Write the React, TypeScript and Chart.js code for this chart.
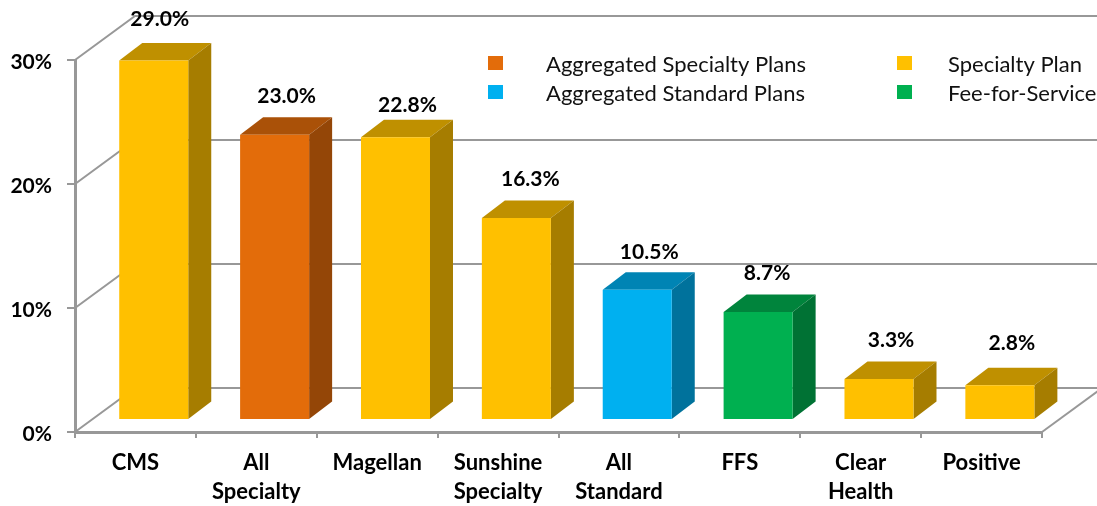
import React, { useEffect, useRef } from "react";
import { Chart, registerables } from "chart.js";

Chart.register(...registerables);

const categories: (string | string[])[] = ["CMS", ["All", "Specialty"], "Magellan", ["Sunshine", "Specialty"], ["All", "Standard"], "FFS", ["Clear", "Health"], "Positive"];
const values = [29.0, 23.0, 22.8, 16.3, 10.5, 8.7, 3.3, 2.8];
const groups = ["Specialty Plan", "Aggregated Specialty Plans", "Specialty Plan", "Specialty Plan", "Aggregated Standard Plans", "Fee-for-Service", "Specialty Plan", "Specialty Plan"];
const legendLeft = ["Aggregated Specialty Plans", "Aggregated Standard Plans"];
const legendRight = ["Specialty Plan", "Fee-for-Service"];
const yTicks = [0, 10, 20, 30];

const palette: Record<string, [number, number, number]> = {
  "Specialty Plan": [255, 192, 0],
  "Aggregated Specialty Plans": [227, 108, 10],
  "Aggregated Standard Plans": [0, 176, 240],
  "Fee-for-Service": [0, 176, 80],
};
const rgb = (c: [number, number, number], k = 1) => `rgb(${Math.round(c[0] * k)},${Math.round(c[1] * k)},${Math.round(c[2] * k)})`;

const FONT = "Lato, Carlito, sans-serif";
const GRID = "#989898";
const WALL = { dx: 60, dy: 44 };
const SHIFT = { dx: 18.3, dy: 12 };
const BOX = { dx: 23, dy: 17.5 };
const labelNudge = [[-6, -2], [0, 0], [0, 7], [2, 0], [0, 1], [-3, 0], [0, 0], [0, -3]];

const scene3d = {
  id: "scene3d",
  beforeDatasetsDraw(chart: any) {
    const { ctx, chartArea: a, scales } = chart;
    const y = scales.y;
    ctx.save();
    ctx.strokeStyle = GRID;
    ctx.lineWidth = 2;
    for (const t of yTicks) {
      const p = y.getPixelForValue(t);
      ctx.beginPath();
      ctx.moveTo(a.left, p);
      ctx.lineTo(a.left + WALL.dx, p - WALL.dy);
      ctx.lineTo(chart.width + 10, p - WALL.dy);
      ctx.stroke();
    }
    ctx.beginPath();
    ctx.moveTo(a.right, a.bottom);
    ctx.lineTo(a.right + WALL.dx, a.bottom - WALL.dy);
    ctx.stroke();
    ctx.restore();

    ctx.save();
    ctx.translate(SHIFT.dx, -SHIFT.dy);
    const meta = chart.getDatasetMeta(0);
    meta.data.forEach((bar: any, i: number) => {
      const c = palette[groups[i]];
      const l = bar.x - bar.width / 2;
      const r = bar.x + bar.width / 2;
      ctx.fillStyle = rgb(c, 0.75);
      ctx.beginPath();
      ctx.moveTo(l, bar.y);
      ctx.lineTo(l + BOX.dx, bar.y - BOX.dy);
      ctx.lineTo(r + BOX.dx, bar.y - BOX.dy);
      ctx.lineTo(r, bar.y);
      ctx.closePath();
      ctx.fill();
      ctx.fillStyle = rgb(c, 0.65);
      ctx.beginPath();
      ctx.moveTo(r, bar.y);
      ctx.lineTo(r + BOX.dx, bar.y - BOX.dy);
      ctx.lineTo(r + BOX.dx, bar.base - BOX.dy);
      ctx.lineTo(r, bar.base);
      ctx.closePath();
      ctx.fill();
    });
    // front faces share the same offset; restored in afterDatasetsDraw
  },
  afterDatasetsDraw(chart: any) {
    const { ctx } = chart;
    ctx.restore();
    const meta = chart.getDatasetMeta(0);
    ctx.save();
    ctx.fillStyle = "#000";
    ctx.font = `bold 21px ${FONT}`;
    ctx.textAlign = "center";
    ctx.textBaseline = "middle";
    meta.data.forEach((bar: any, i: number) => {
      const [nx, ny] = labelNudge[i];
      ctx.fillText(`${values[i].toFixed(1)}%`, bar.x + SHIFT.dx + 12 + nx, bar.y - SHIFT.dy - 39 + ny);
    });
    ctx.restore();

    // legend
    ctx.save();
    ctx.font = `22px ${FONT}`;
    ctx.textBaseline = "middle";
    ctx.textAlign = "left";
    const rows = [64, 93];
    const draw = (names: string[], sx: number, tx: number) => {
      names.forEach((name, i) => {
        ctx.fillStyle = rgb(palette[name]);
        ctx.fillRect(sx, rows[i] - 8, 15, 14);
        ctx.fillStyle = "#111";
        ctx.fillText(name, tx, rows[i] + 1);
      });
    };
    draw(legendLeft, 488, 546);
    draw(legendRight, 897, 948);
    ctx.restore();
  },
};

export default function App() {
  const ref = useRef<HTMLCanvasElement>(null);
  useEffect(() => {
    const chart = new Chart(ref.current!, {
      type: "bar",
      data: {
        labels: categories as any,
        datasets: [{
          data: values,
          backgroundColor: groups.map((g) => rgb(palette[g])),
          barPercentage: 0.571,
          categoryPercentage: 1,
          borderWidth: 0,
        }],
      },
      plugins: [scene3d],
      options: {
        responsive: false,
        animation: false,
        layout: { padding: { top: 60, right: 55, left: 0, bottom: 0 } },
        plugins: { legend: { display: false }, tooltip: { enabled: false } },
        scales: {
          x: {
            afterFit: (s: any) => { s.height = 74; },
            grid: { drawOnChartArea: false, color: GRID, tickLength: 6, lineWidth: 2 },
            border: { color: GRID, width: 3 },
            ticks: { color: "#000", padding: 10, maxRotation: 0, autoSkip: false, font: { family: FONT, size: 22, weight: "bold", lineHeight: 1.32 } },
          },
          y: {
            min: 0,
            max: 30,
            afterFit: (s: any) => { s.width = 75; },
            grid: { drawOnChartArea: false, color: GRID, tickLength: 8, lineWidth: 2 },
            border: { color: GRID, width: 3 },
            ticks: { stepSize: 10, color: "#000", padding: 15, labelOffset: 2, callback: (v: any) => `${v}%`, font: { family: FONT, size: 21, weight: "bold" } },
          },
        },
      },
    } as any);
    return () => chart.destroy();
  }, []);
  return (
    <div style={{ position: "absolute", left: 0, top: 0, width: 1097, height: 506, background: "#fff" }}>
      <canvas ref={ref} width={1097} height={506} style={{ display: "block" }} />
    </div>
  );
}
